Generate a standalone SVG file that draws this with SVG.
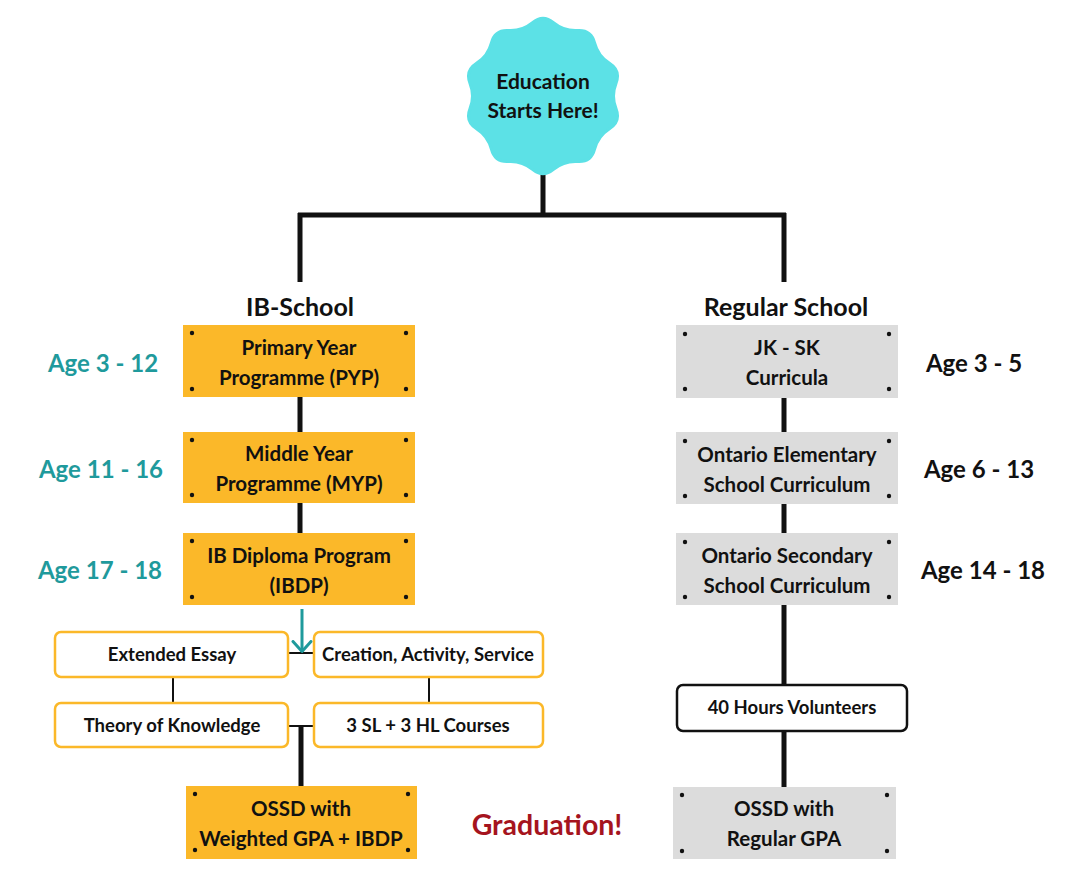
<svg xmlns="http://www.w3.org/2000/svg" width="1080" height="890" viewBox="0 0 1080 890">
<defs>
<style>
text{font-family:Lato,"Open Sans","Liberation Sans",sans-serif;font-weight:bold;text-anchor:middle;fill:#111}
.box{font-size:20.5px}
.sm{font-size:18.5px}
.head{font-size:25px}
.age{font-size:24px}
.teal{fill:#1f9a9c}
.ib{fill:#fbb829}
.reg{fill:#dcdcdc}
.sub{fill:#fff;stroke:#fbb829;stroke-width:2.5}
.dot{fill:#111}
.thick{stroke:#111;stroke-width:5;fill:none}
.thin{stroke:#111;stroke-width:2;fill:none}
</style>
<marker id="ah" viewBox="0 0 14 22" refX="12.5" refY="11" markerWidth="14" markerHeight="22" markerUnits="userSpaceOnUse" orient="auto">
<polyline points="2,2 12,11 2,20" fill="none" stroke="#1f9a9c" stroke-width="3" stroke-linecap="round" stroke-linejoin="round"/>
</marker>
</defs>
<rect width="1080" height="890" fill="#fff"/>

<g id="connectors">
<path class="thick" d="M543,168 V215 M298,215 H786 M300,213 V282 M784,213 V282"/>
<path class="thick" d="M300,397 V432 M300,503 V533 M784,397 V432 M784,503 V533 M784,605 V686 M784,731 V787"/>
<path class="thin" d="M288,653 H314 M288,726 H314 M173,677 V703 M429,677 V703"/>
<path class="thick" d="M301,726 V787"/>
<path d="M302,609 V652" stroke="#1f9a9c" stroke-width="3" fill="none" marker-end="url(#ah)"/>
</g>

<g id="start">
<path fill="#5ce1e6" d="M532.495,22.665 Q543,14 553.505,22.665 Q564.01,31.33 577.605,30.495 Q591.2,29.66 594.605,42.845 Q598.01,56.03 609.5,63.345 Q620.99,70.66 615.995,83.33 Q611,96 615.995,108.67 Q620.99,121.34 609.5,128.655 Q598.01,135.97 594.605,149.155 Q591.2,162.34 577.605,161.505 Q564.01,160.67 553.505,169.335 Q543,178 532.495,169.335 Q521.99,160.67 508.395,161.505 Q494.8,162.34 491.395,149.155 Q487.99,135.97 476.5,128.655 Q465.01,121.34 470.005,108.67 Q475,96 470.005,83.33 Q465.01,70.66 476.5,63.345 Q487.99,56.03 491.395,42.845 Q494.8,29.66 508.395,30.495 Q521.99,31.33 532.495,22.665 Z" stroke="#5ce1e6" stroke-width="3" stroke-linejoin="round"/>
<text x="543" y="89" style="font-size:21px">Education</text>
<text x="543" y="118" style="font-size:21px">Starts Here!</text>
</g>

<g id="ib-school"><text class="head" x="300" y="316">IB-School</text></g>
<g id="regular-school"><text class="head" x="786" y="316">Regular School</text></g>

<g id="pyp">
<rect class="ib" x="183" y="325" width="232" height="72"/>
<circle class="dot" cx="192" cy="333" r="2.2"/><circle class="dot" cx="406" cy="333" r="2.2"/><circle class="dot" cx="192" cy="389" r="2.2"/><circle class="dot" cx="406" cy="389" r="2.2"/>
<text class="box" x="299" y="355">Primary Year</text>
<text class="box" x="299" y="385">Programme (PYP)</text>
</g>
<g id="myp">
<rect class="ib" x="183" y="432" width="232" height="71"/>
<circle class="dot" cx="192" cy="440" r="2.2"/><circle class="dot" cx="406" cy="440" r="2.2"/><circle class="dot" cx="192" cy="495" r="2.2"/><circle class="dot" cx="406" cy="495" r="2.2"/>
<text class="box" x="299" y="461">Middle Year</text>
<text class="box" x="299" y="491">Programme (MYP)</text>
</g>
<g id="ibdp">
<rect class="ib" x="183" y="533" width="232" height="72"/>
<circle class="dot" cx="192" cy="541" r="2.2"/><circle class="dot" cx="406" cy="541" r="2.2"/><circle class="dot" cx="192" cy="597" r="2.2"/><circle class="dot" cx="406" cy="597" r="2.2"/>
<text class="box" x="299" y="563">IB Diploma Program</text>
<text class="box" x="299" y="593">(IBDP)</text>
</g>

<g id="age-ib">
<text class="age teal" x="103" y="372">Age 3 - 12</text>
<text class="age teal" x="101" y="478">Age 11 - 16</text>
<text class="age teal" x="100" y="579">Age 17 - 18</text>
</g>

<g id="ee"><rect class="sub" x="55" y="632" width="233" height="45" rx="6"/><text class="sm" x="172" y="661">Extended Essay</text></g>
<g id="cas"><rect class="sub" x="314" y="632" width="229" height="45" rx="6"/><text class="sm" x="428" y="661">Creation, Activity, Service</text></g>
<g id="tok"><rect class="sub" x="55" y="703" width="233" height="44" rx="6"/><text class="sm" x="172" y="732">Theory of Knowledge</text></g>
<g id="courses"><rect class="sub" x="314" y="703" width="229" height="44" rx="6"/><text class="sm" x="428" y="732">3 SL + 3 HL Courses</text></g>

<g id="ossd-ib">
<rect class="ib" x="186" y="786" width="231" height="73"/>
<circle class="dot" cx="195" cy="794" r="2.2"/><circle class="dot" cx="408" cy="794" r="2.2"/><circle class="dot" cx="195" cy="850" r="2.2"/><circle class="dot" cx="408" cy="850" r="2.2"/>
<text class="box" x="301" y="816">OSSD with</text>
<text class="box" x="301" y="846">Weighted GPA + IBDP</text>
</g>

<g id="graduation"><text x="547" y="835" style="font-size:28.5px;fill:#a5141e">Graduation!</text></g>

<g id="jk">
<rect class="reg" x="676" y="325" width="222" height="73"/>
<circle class="dot" cx="685" cy="334" r="2.2"/><circle class="dot" cx="889" cy="334" r="2.2"/><circle class="dot" cx="685" cy="389" r="2.2"/><circle class="dot" cx="889" cy="389" r="2.2"/>
<text class="box" x="787" y="355">JK - SK</text>
<text class="box" x="787" y="385">Curricula</text>
</g>
<g id="elem">
<rect class="reg" x="676" y="432" width="222" height="72"/>
<circle class="dot" cx="685" cy="441" r="2.2"/><circle class="dot" cx="889" cy="441" r="2.2"/><circle class="dot" cx="685" cy="496" r="2.2"/><circle class="dot" cx="889" cy="496" r="2.2"/>
<text class="box" x="787" y="462">Ontario Elementary</text>
<text class="box" x="787" y="492">School Curriculum</text>
</g>
<g id="sec">
<rect class="reg" x="676" y="533" width="222" height="72"/>
<circle class="dot" cx="685" cy="542" r="2.2"/><circle class="dot" cx="889" cy="542" r="2.2"/><circle class="dot" cx="685" cy="597" r="2.2"/><circle class="dot" cx="889" cy="597" r="2.2"/>
<text class="box" x="787" y="563">Ontario Secondary</text>
<text class="box" x="787" y="593">School Curriculum</text>
</g>

<g id="age-reg">
<text class="age" x="974" y="372">Age 3 - 5</text>
<text class="age" x="979" y="478">Age 6 - 13</text>
<text class="age" x="983" y="579">Age 14 - 18</text>
</g>

<g id="volunteers"><rect x="677" y="685" width="230" height="46" rx="6" fill="#fff" stroke="#111" stroke-width="2.5"/><text class="sm" x="792" y="714">40 Hours Volunteers</text></g>

<g id="ossd-reg">
<rect class="reg" x="673" y="787" width="223" height="72"/>
<circle class="dot" cx="682" cy="795" r="2.2"/><circle class="dot" cx="887" cy="795" r="2.2"/><circle class="dot" cx="682" cy="851" r="2.2"/><circle class="dot" cx="887" cy="851" r="2.2"/>
<text class="box" x="784" y="816">OSSD with</text>
<text class="box" x="784" y="846">Regular GPA</text>
</g>
</svg>
